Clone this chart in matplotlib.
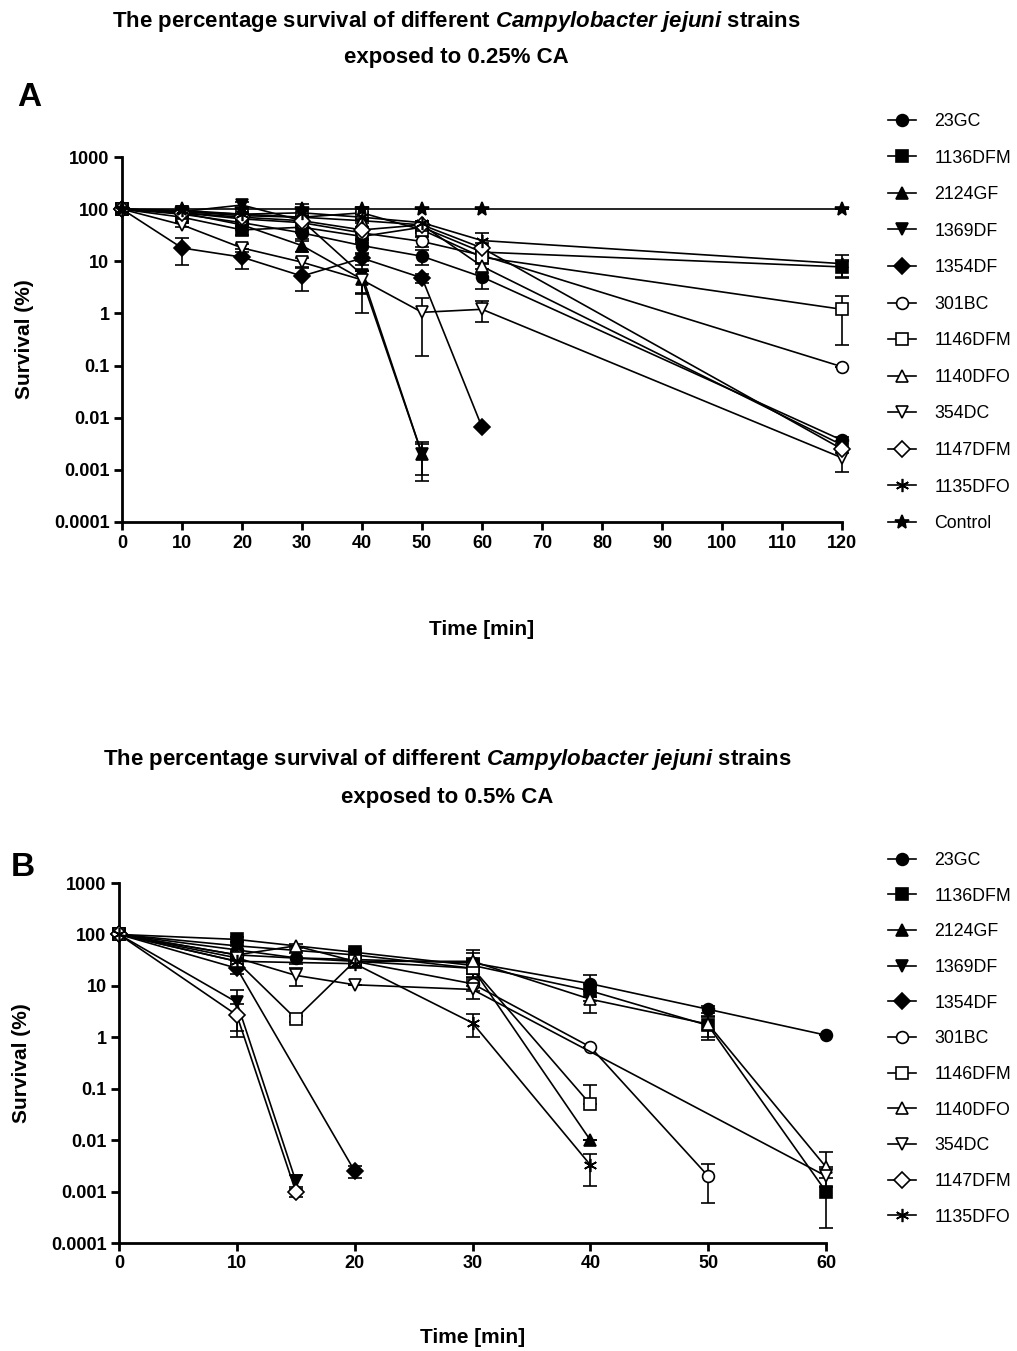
import numpy as np
import matplotlib
matplotlib.use('Agg')
import matplotlib.pyplot as plt
from matplotlib import font_manager as fm

names = {f.name for f in fm.fontManager.ttflist}
FONT = 'Liberation Sans Narrow' if 'Liberation Sans Narrow' in names else 'Liberation Sans'
plt.rcParams['font.family'] = [FONT, 'DejaVu Sans']
plt.rcParams['mathtext.fontset'] = 'custom'
plt.rcParams['mathtext.it'] = f'{FONT}:italic:bold'
plt.rcParams['mathtext.rm'] = f'{FONT}:bold'
plt.rcParams['mathtext.bf'] = f'{FONT}:bold'

# ---------------- data: panel A (0.25% CA) ----------------
strains_A = ['23GC', '1136DFM', '2124GF', '1369DF', '1354DF', '301BC', '1146DFM',
             '1140DFO', '354DC', '1147DFM', '1135DFO', 'Control']
A_t_full = [0, 10, 20, 30, 40, 50, 60, 120]
A_t_50 = [0, 10, 20, 30, 40, 50]
A_t_60 = [0, 10, 20, 30, 40, 50, 60]

A_23GC = [100, 80, 55, 35, 20, 12.5, 5, 0.0037]
A_23GC_sd = [0, 8, 10, 8, 6, 4, 2, 0.0005]
A_1136DFM = [100, 70, 40, 45, 30, 45, 15, 7.8]
A_1136DFM_sd = [0, 10, 8, 10, 8, 10, 5, 3]
A_2124GF = [100, 85, 50, 20, 4.5, 0.002]
A_2124GF_sd = [0, 10, 10, 5, 2, 0.0014]
A_1369DF = [100, 90, 120, 60, 5.5, 0.002]
A_1369DF_sd = [0, 10, 15, 15, 4.5, 0.0012]
A_1354DF = [100, 18, 12, 5.2, 11.5, 4.8, 0.0066]
A_1354DF_sd = [0, 9.5, 5, 2.5, 3, 1, 0]
A_301BC = [100, 85, 65, 55, 35, 24, 13, 0.095]
A_301BC_sd = [0, 8, 8, 8, 8, 5, 3, 0]
A_1146DFM = [100, 90, 80, 70, 85, 40, 12, 1.2]
A_1146DFM_sd = [0, 5, 5, 5, 5, 5, 3, 0.95]
A_1140DFO = [100, 90, 75, 70, 60, 50, 8, 0.003]
A_1140DFO_sd = [0, 5, 5, 5, 5, 5, 2, 0.0005]
A_354DC = [100, 50, 18, 9.6, 4.4, 1.05, 1.2, 0.0017]
A_354DC_sd = [0, 5, 3, 2, 2, 0.9, 0.5, 0.0008]
A_1147DFM = [100, 85, 70, 60, 40, 50, 18, 0.0025]
A_1147DFM_sd = [0, 5, 5, 5, 5, 5, 4, 0.0004]
A_1135DFO = [100, 95, 80, 85, 70, 55, 25, 9]
A_1135DFO_sd = [0, 5, 5, 40, 10, 5, 10, 4]
A_Control = [100, 100, 100, 100, 100, 100, 100, 100]
A_Control_sd = [0, 0, 0, 0, 0, 0, 0, 0]

# ---------------- data: panel B (0.5% CA) ----------------
strains_B = ['23GC', '1136DFM', '2124GF', '1369DF', '1354DF', '301BC', '1146DFM',
             '1140DFO', '354DC', '1147DFM', '1135DFO']
B_23GC_t = [0, 10, 15, 30, 40, 50, 60]
B_23GC = [100, 50, 35, 28, 11, 3.5, 1.1]
B_23GC_sd = [0, 10, 8, 15, 5, 0.5, 0]
B_1136DFM_t = [0, 10, 20, 30, 40, 50, 60]
B_1136DFM = [100, 80, 45, 25, 8, 1.7, 0.001]
B_1136DFM_sd = [0, 10, 8, 10, 3, 0.8, 0.0008]
B_2124GF_t = [0, 10, 20, 30, 40]
B_2124GF = [100, 60, 40, 22, 0.01]
B_2124GF_sd = [0, 10, 8, 10, 0]
B_1369DF_t = [0, 10, 15]
B_1369DF = [100, 4.8, 0.0016]
B_1369DF_sd = [0, 3.5, 0.0005]
B_1354DF_t = [0, 10, 20]
B_1354DF = [100, 22, 0.0025]
B_1354DF_sd = [0, 5, 0.0007]
B_301BC_t = [0, 10, 20, 30, 40, 50]
B_301BC = [100, 40, 30, 11, 0.65, 0.002]
B_301BC_sd = [0, 5, 5, 3, 0, 0.0014]
B_1146DFM_t = [0, 10, 15, 20, 30, 40]
B_1146DFM = [100, 30, 2.3, 30, 22, 0.05]
B_1146DFM_sd = [0, 5, 0.3, 5, 5, 0.07]
B_1140DFO_t = [0, 10, 15, 20, 30, 40, 50, 60]
B_1140DFO = [100, 40, 60, 30, 30, 5.5, 1.8, 0.003]
B_1140DFO_sd = [0, 5, 5, 5, 20, 2.5, 0.8, 0.003]
B_354DC_t = [0, 10, 15, 20, 30, 60]
B_354DC = [100, 35, 16, 10.5, 8.5, 0.002]
B_354DC_sd = [0, 5, 6, 0, 3, 0.0008]
B_1147DFM_t = [0, 10, 15]
B_1147DFM = [100, 2.7, 0.001]
B_1147DFM_sd = [0, 1.7, 0.0002]
B_1135DFO_t = [0, 10, 20, 30, 40]
B_1135DFO = [100, 30, 27, 1.9, 0.0033]
B_1135DFO_sd = [0, 5, 5, 0.9, 0.002]

A_ticks_x = [0, 10, 20, 30, 40, 50, 60, 70, 80, 90, 100, 110, 120]
B_ticks_x = [0, 10, 20, 30, 40, 50, 60]
y_ticks = [0.0001, 0.001, 0.01, 0.1, 1, 10, 100, 1000]
y_ticklabels = ['0.0001', '0.001', '0.01', '0.1', '1', '10', '100', '1000']

series_A = [
    (A_t_full, A_23GC, A_23GC_sd), (A_t_full, A_1136DFM, A_1136DFM_sd),
    (A_t_50, A_2124GF, A_2124GF_sd), (A_t_50, A_1369DF, A_1369DF_sd),
    (A_t_60, A_1354DF, A_1354DF_sd), (A_t_full, A_301BC, A_301BC_sd),
    (A_t_full, A_1146DFM, A_1146DFM_sd), (A_t_full, A_1140DFO, A_1140DFO_sd),
    (A_t_full, A_354DC, A_354DC_sd), (A_t_full, A_1147DFM, A_1147DFM_sd),
    (A_t_full, A_1135DFO, A_1135DFO_sd), (A_t_full, A_Control, A_Control_sd),
]
series_B = [
    (B_23GC_t, B_23GC, B_23GC_sd), (B_1136DFM_t, B_1136DFM, B_1136DFM_sd),
    (B_2124GF_t, B_2124GF, B_2124GF_sd), (B_1369DF_t, B_1369DF, B_1369DF_sd),
    (B_1354DF_t, B_1354DF, B_1354DF_sd), (B_301BC_t, B_301BC, B_301BC_sd),
    (B_1146DFM_t, B_1146DFM, B_1146DFM_sd), (B_1140DFO_t, B_1140DFO, B_1140DFO_sd),
    (B_354DC_t, B_354DC, B_354DC_sd), (B_1147DFM_t, B_1147DFM, B_1147DFM_sd),
    (B_1135DFO_t, B_1135DFO, B_1135DFO_sd),
]

markers = ['o', 's', '^', 'v', 'D', 'o', 's', '^', 'v', 'D', (6, 2, 0), '*']
filled = [True, True, True, True, True, False, False, False, False, False, True, True]
msizes = [8.5, 8.5, 9, 9, 8, 8.5, 8.5, 9, 9, 8, 9.5, 10]

fig = plt.figure(figsize=(10.17, 13.51), dpi=100)
W, H = 1017, 1351


def px_axes(left, top, right, bottom):
    return fig.add_axes([left / W, 1 - bottom / H, (right - left) / W, (bottom - top) / H])


def draw(ax, series, labels, xmax, xticks, leg_top, xlabelpad, lspace):
    handles = []
    for i, (t, v, sd) in enumerate(series):
        fc = 'black' if filled[i] else 'white'
        v_arr = np.asarray(v, dtype=float)
        sd_arr = np.asarray(sd, dtype=float)
        lower = np.where(sd_arr < v_arr, sd_arr, 0.0)
        ax.errorbar(t, v, yerr=[lower, sd_arr], fmt='none', ecolor='black', elinewidth=1.2,
                    capsize=5, capthick=1.2, zorder=2, clip_on=False)
        ln, = ax.plot(t, v, color='black', lw=1.2, marker=markers[i], ms=msizes[i],
                      mfc=fc, mec='black', mew=1.2, zorder=3, clip_on=False)
        handles.append(ln)
    ax.set_yscale('log')
    ax.set_ylim(0.0001, 1000)
    ax.set_xlim(0, xmax)
    ax.set_xticks(xticks)
    ax.set_xticklabels([str(x) for x in xticks])
    ax.set_yticks(y_ticks)
    ax.set_yticklabels(y_ticklabels)
    ax.minorticks_off()
    for s in ['top', 'right']:
        ax.spines[s].set_visible(False)
    for s in ['left', 'bottom']:
        ax.spines[s].set_linewidth(2.0)
    ax.tick_params(axis='both', which='major', direction='out', length=6, width=2,
                   labelsize=13, pad=3)
    for lab in ax.get_xticklabels() + ax.get_yticklabels():
        lab.set_fontweight('bold')
    ax.set_xlabel('Time [min]', fontsize=15, fontweight='bold', labelpad=xlabelpad)
    ax.set_ylabel('Survival (%)', fontsize=15, fontweight='bold', labelpad=14)
    fig.legend(handles, labels, loc='upper left', bbox_to_anchor=(888 / W, 1 - leg_top / H),
               frameon=False, fontsize=12.8, handlelength=1.6, handletextpad=1.0,
               labelspacing=lspace, borderpad=0, borderaxespad=0)


axA = px_axes(122, 157, 842, 522)
draw(axA, series_A, strains_A, 120, A_ticks_x, 113, 49, 1.1)
axB = px_axes(119, 883, 826, 1243)
draw(axB, series_B, strains_B, 60, B_ticks_x, 852, 40, 1.05)

title1 = r'The percentage survival of different $\mathit{Campylobacter\ jejuni}$ strains'
fig.text(456 / W, 1 - 22 / H, title1, ha='center', va='center', fontsize=16, fontweight='bold')
fig.text(456 / W, 1 - 58 / H, 'exposed to 0.25% CA', ha='center', va='center', fontsize=16,
         fontweight='bold')
fig.text(447 / W, 1 - 760 / H, title1, ha='center', va='center', fontsize=16, fontweight='bold')
fig.text(447 / W, 1 - 797 / H, 'exposed to 0.5% CA', ha='center', va='center', fontsize=16,
         fontweight='bold')
fig.text(29 / W, 1 - 98 / H, 'A', ha='center', va='center', fontsize=24, fontweight='bold')
fig.text(23 / W, 1 - 868 / H, 'B', ha='center', va='center', fontsize=24, fontweight='bold')

fig.savefig('out.png', dpi=100)
